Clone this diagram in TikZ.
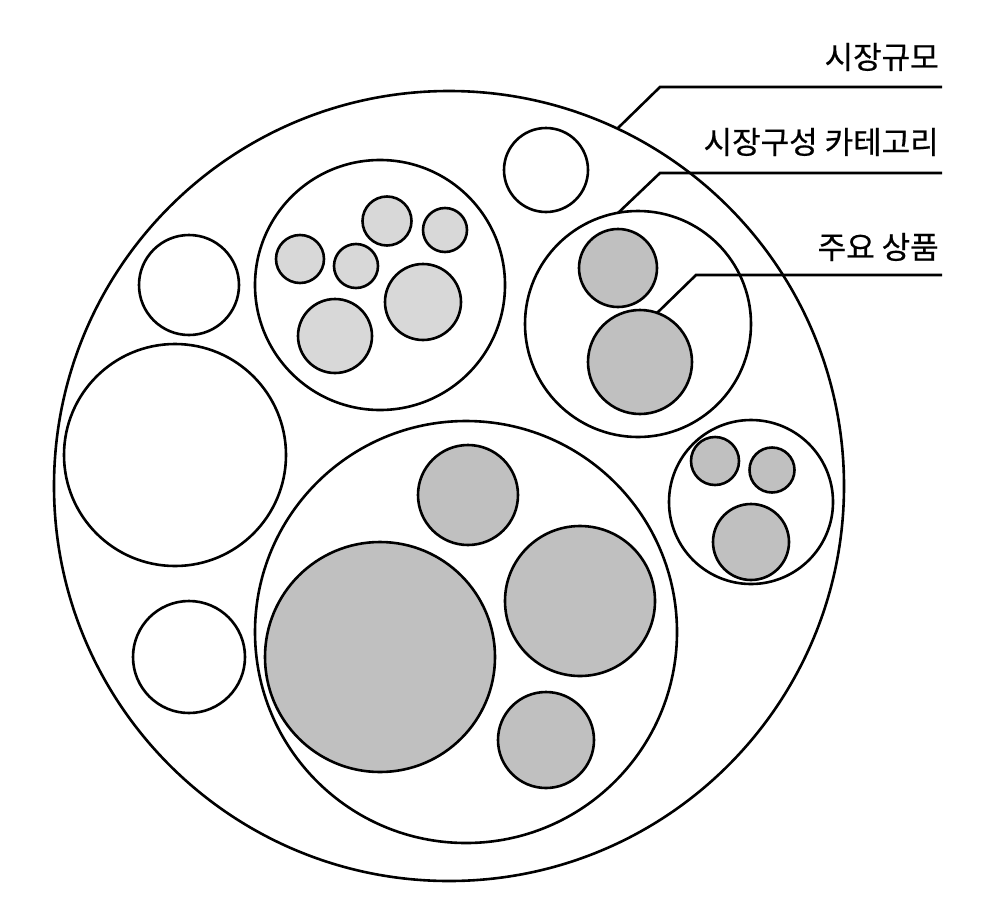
\documentclass[tikz,border=0pt]{standalone}
\usepackage{fontspec}
\newfontfamily\kr[FakeBold=0.6]{Noto Sans CJK KR}
\begin{document}
\begin{tikzpicture}[x=1pt,y=-1pt,line width=2.6pt,
  c/.style={circle,draw=black,inner sep=0pt,minimum size=#1},
  wc/.style={c=#1,fill=white},
  gc/.style={c=#1,fill={rgb,255:red,192;green,192;blue,192}},
  lc/.style={c=#1,fill={rgb,255:red,216;green,216;blue,216}},
  lab/.style={font=\kr\fontsize{31}{34}\selectfont,anchor=east,inner sep=0pt}]
\useasboundingbox (0,0) rectangle (995,902);
\node[wc=790pt] (outer) at (449,486) {};
\node[wc=84pt] (w1) at (546,170) {};
\node[wc=100pt] (w2) at (189,285) {};
\node[wc=222pt] (w3) at (175,455) {};
\node[wc=112pt] (w4) at (189,657) {};
\node[wc=250pt] (cat1) at (380,285) {};
\node[lc=48pt] (a1) at (300,259) {};
\node[lc=49pt] (a2) at (387,221) {};
\node[lc=44pt] (a3) at (445,230) {};
\node[lc=44pt] (a4) at (356,266) {};
\node[lc=76pt] (a5) at (423,302) {};
\node[lc=74pt] (a6) at (335,336) {};
\node[wc=226pt] (cat2) at (638,324) {};
\node[gc=78pt] (b1) at (618,268) {};
\node[gc=104pt] (b2) at (640,362) {};
\node[wc=164pt] (cat3) at (751,502) {};
\node[gc=48pt] (c1) at (715,461) {};
\node[gc=45pt] (c2) at (772,470) {};
\node[gc=76pt] (c3) at (751,542) {};
\node[wc=422pt] (cat4) at (466,632) {};
\node[gc=230pt] (d1) at (380,657) {};
\node[gc=100pt] (d2) at (468,495) {};
\node[gc=150pt] (d3) at (580,601) {};
\node[gc=96pt] (d4) at (546,740) {};
\coordinate (s1) at (618,128);
\coordinate (s2) at (618,213);
\coordinate (s3) at (657,313);
\coordinate (e1) at (942,87);
\coordinate (e2) at (942,173);
\coordinate (e3) at (942,275);
\draw (s1) -- (660,87) -- (e1);
\draw (s2) -- (660,173) -- (e2);
\draw (s3) -- (696,275) -- (e3);
\node[lab] (l1) at (940,57) {시장규모};
\node[lab] (l2) at (940,142) {시장구성 카테고리};
\node[lab] (l3) at (940,247) {주요 상품};
\end{tikzpicture}
\end{document}
